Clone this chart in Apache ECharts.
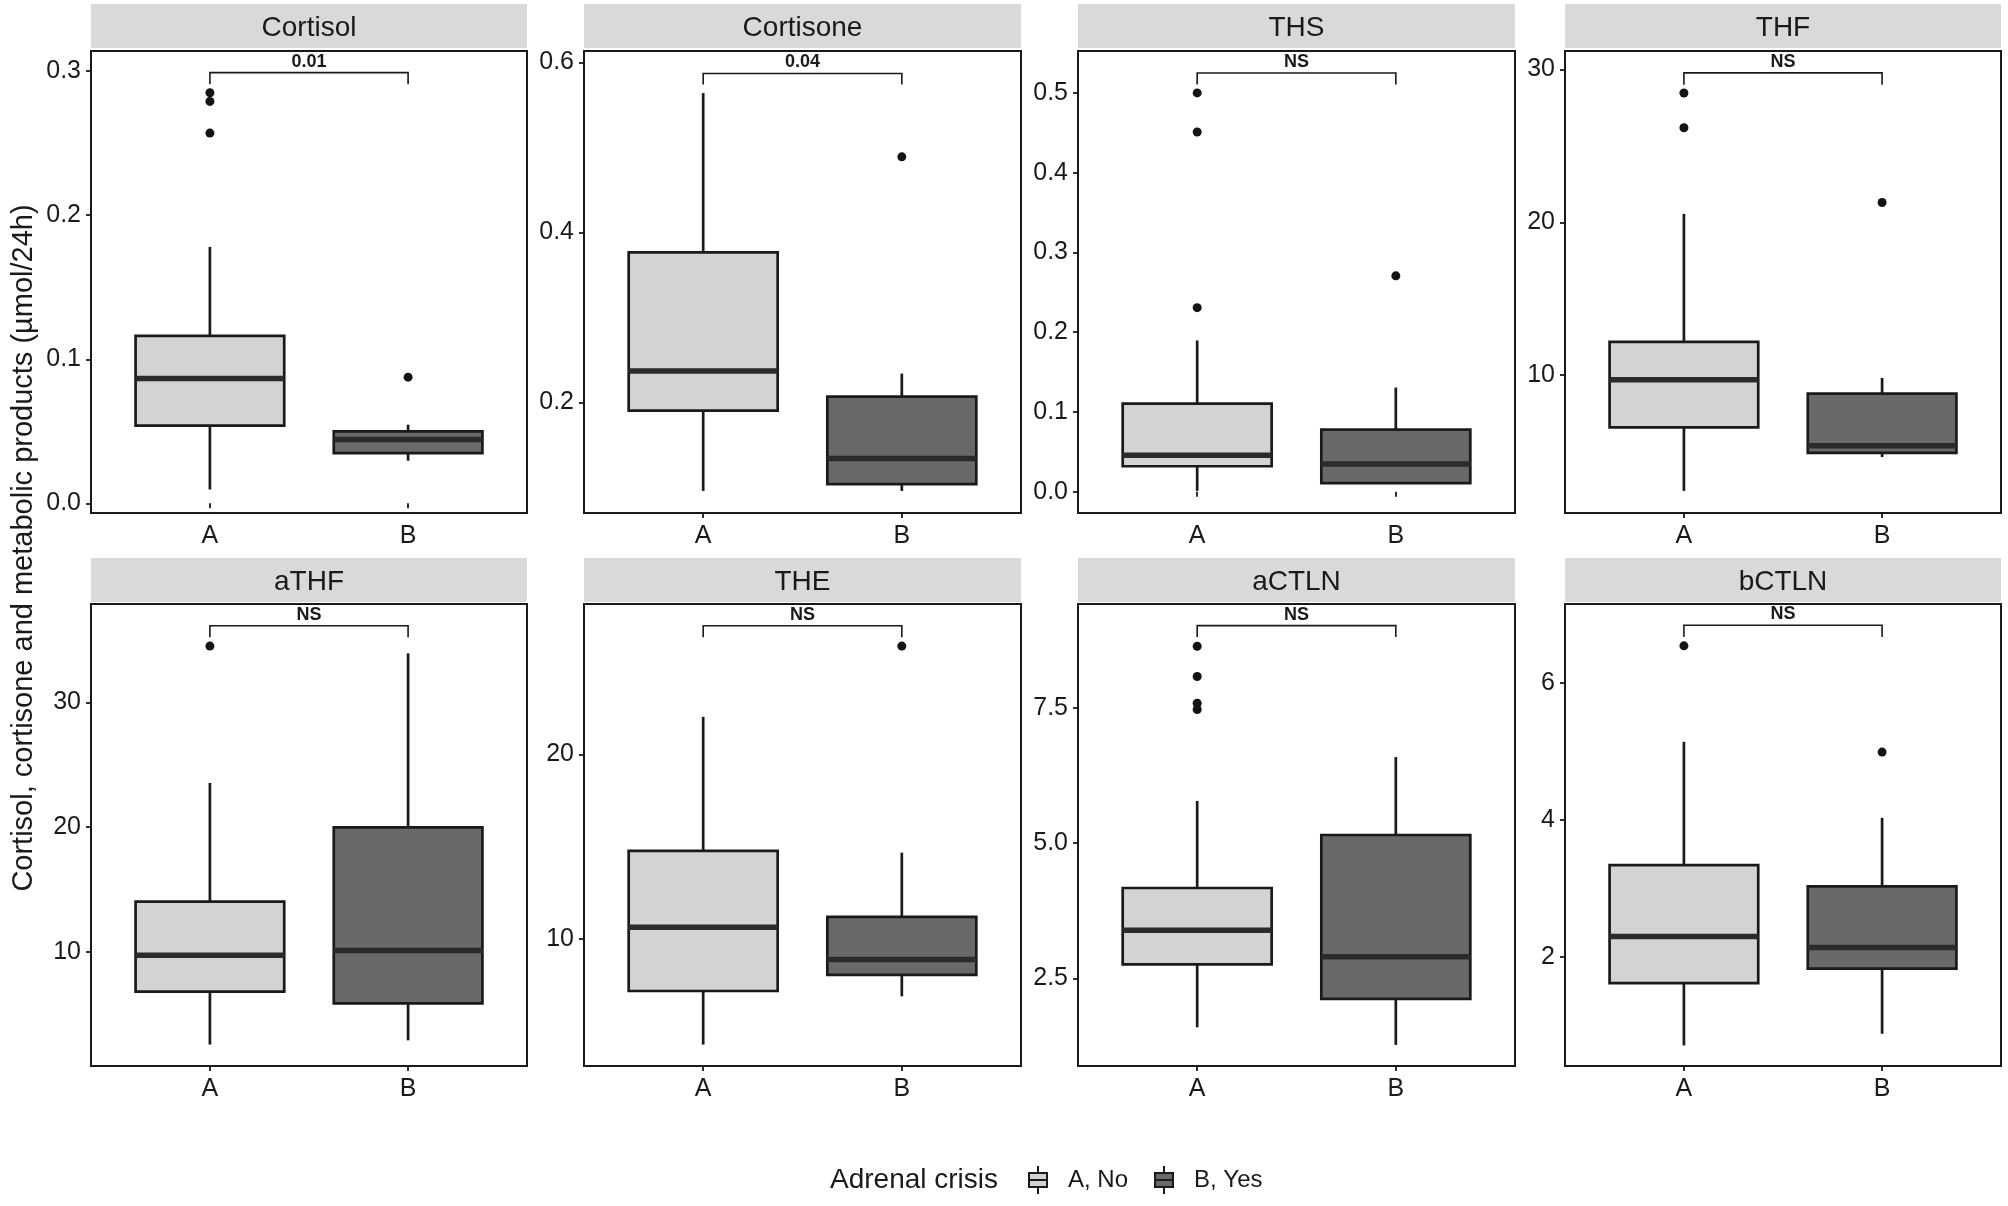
<!DOCTYPE html>
<html>
<head>
<meta charset="utf-8">
<title>Adrenal crisis boxplots</title>
<script src="https://cdn.jsdelivr.net/npm/echarts@6/dist/echarts.min.js"></script>
<style>
  html, body { margin: 0; padding: 0; background: #fff; }
</style>
</head>
<body>
<div id="main" style="width:2008px;height:1206px"></div>
<script type="text/javascript">
// panel names and groups
var panels = ['Cortisol', 'Cortisone', 'THS', 'THF', 'aTHF', 'THE', 'aCTLN', 'bCTLN'];
var groups = ['A', 'B'];
var groupNames = ['A, No', 'B, Yes'];

// box stats: [lower whisker, Q1, median, Q3, upper whisker]
var boxA = [
    [0.0096, 0.054, 0.0867, 0.1163, 0.178],
    [0.096, 0.1904, 0.237, 0.3766, 0.564],
    [0.001, 0.0318, 0.0456, 0.1104, 0.1896],
    [2.42, 6.57, 9.70, 12.17, 20.55],
    [2.54, 6.79, 9.72, 14.02, 23.54],
    [4.29, 7.19, 10.64, 14.78, 22.03],
    [1.595, 2.76, 3.39, 4.17, 5.78],
    [0.71, 1.62, 2.30, 3.34, 5.14]
];
var boxB = [
    [0.0296, 0.0348, 0.0444, 0.050, 0.0546],
    [0.096, 0.104, 0.134, 0.207, 0.234],
    [0.0107, 0.0107, 0.0345, 0.0778, 0.1305],
    [4.63, 4.91, 5.38, 8.79, 9.81],
    [2.88, 5.84, 10.09, 19.98, 33.95],
    [6.90, 8.06, 8.90, 11.20, 14.68],
    [1.27, 2.12, 2.90, 5.15, 6.59],
    [0.88, 1.83, 2.14, 3.03, 4.03]
];
// outliers
var outA = [[0.285, 0.279, 0.257], [], [0.5, 0.451, 0.2307], [28.46, 26.19], [34.53], [], [8.64, 8.08, 7.585, 7.47], [6.54]];
var outB = [[0.0876], [0.489], [0.2706], [21.29], [], [25.86], [], [4.99]];

// significance brackets
var pLabels = ['0.01', '0.04', 'NS', 'NS', 'NS', 'NS', 'NS', 'NS'];
var bracketTop = [0.299, 0.587, 0.525, 29.78, 36.16, 26.96, 9.02, 6.84];
var bracketTip = [0.291, 0.574, 0.5107, 29.0, 35.24, 26.34, 8.81, 6.67];

// y scales
var yMin = [-0.0067, 0.070, -0.0268, 0.97, 0.82, 3.13, 0.88, 0.41];
var yMax = [0.314, 0.6135, 0.5526, 31.21, 37.91, 28.14, 9.42, 7.15];
var yTicks = [
    [0, 0.1, 0.2, 0.3],
    [0.2, 0.4, 0.6],
    [0, 0.1, 0.2, 0.3, 0.4, 0.5],
    [10, 20, 30],
    [10, 20, 30],
    [10, 20],
    [2.5, 5.0, 7.5],
    [2, 4, 6]
];
var yDecimals = [1, 1, 1, 0, 0, 0, 1, 0];

var fillA = '#d3d3d3';
var fillB = '#696969';
var ink = '#1a1a1a';
var font = "'Liberation Sans', Arial, sans-serif";

// layout of the facets
var colLeft = [91, 584, 1078, 1565];
var colWidth = [436, 437, 437, 436];
var rowTop = [51, 604];
var rowHeight = [462, 462];
var stripTop = [4, 558];
var stripHeight = 44;

var myChart = echarts.init(document.getElementById('main'));

function renderBox(params, api) {
    var x = api.value(0);
    var lo = api.coord([x, api.value(1)]);
    var q1 = api.coord([x, api.value(2)]);
    var md = api.coord([x, api.value(3)]);
    var q3 = api.coord([x, api.value(4)]);
    var hi = api.coord([x, api.value(5)]);
    var hw = api.size([0.75, 0])[0] / 2;
    var lineStyle = { stroke: ink, lineWidth: 2.7 };
    return {
        type: 'group',
        children: [
            { type: 'line', shape: { x1: lo[0], y1: lo[1], x2: q1[0], y2: q1[1] }, style: lineStyle },
            { type: 'line', shape: { x1: q3[0], y1: q3[1], x2: hi[0], y2: hi[1] }, style: lineStyle },
            {
                type: 'rect',
                shape: { x: q3[0] - hw, y: q3[1], width: hw * 2, height: q1[1] - q3[1] },
                style: { fill: api.visual('color'), stroke: ink, lineWidth: 2.7 }
            },
            { type: 'line', shape: { x1: md[0] - hw, y1: md[1], x2: md[0] + hw, y2: md[1] }, style: { stroke: '#2b2b2b', lineWidth: 5.5 } }
        ]
    };
}

function makeBracketRenderer(label) {
    return function (params, api) {
        var a0 = api.coord([api.value(0), api.value(3)]);
        var a1 = api.coord([api.value(0), api.value(2)]);
        var b1 = api.coord([api.value(1), api.value(2)]);
        var b0 = api.coord([api.value(1), api.value(3)]);
        return {
            type: 'group',
            children: [
                { type: 'polyline', shape: { points: [a0, a1, b1, b0] }, style: { stroke: ink, lineWidth: 1.6, fill: null } },
                {
                    type: 'text',
                    style: {
                        x: (a1[0] + b1[0]) / 2, y: a1[1] - 2,
                        text: label, align: 'center', verticalAlign: 'bottom',
                        fontFamily: font, fontWeight: 'bold', fontSize: 18, fill: ink
                    }
                }
            ]
        };
    };
}

var grids = [], xAxes = [], yAxes = [], series = [], graphics = [];

panels.forEach(function (name, i) {
    var row = i < 4 ? 0 : 1;
    var col = i % 4;
    grids.push({
        left: colLeft[col], top: rowTop[row], width: colWidth[col], height: rowHeight[row],
        show: true, borderColor: ink, borderWidth: 2, backgroundColor: '#fff'
    });
    xAxes.push({
        type: 'value', gridIndex: i, min: 0.4, max: 2.6,
        axisLine: { show: false },
        splitLine: { show: false },
        axisTick: { show: true, customValues: [1, 2], length: 5, lineStyle: { color: ink, width: 1.8 } },
        axisLabel: {
            customValues: [1, 2], margin: 11, fontSize: 25, fontFamily: font, color: ink,
            formatter: function (v) { return groups[Math.round(v) - 1]; }
        }
    });
    yAxes.push({
        type: 'value', gridIndex: i, min: yMin[i], max: yMax[i],
        axisLine: { show: false },
        splitLine: { show: false },
        axisTick: { show: true, customValues: yTicks[i], length: 5, lineStyle: { color: ink, width: 1.8 } },
        axisLabel: {
            customValues: yTicks[i], margin: 10, fontSize: 25, fontFamily: font, color: ink,
            formatter: (function (d) { return function (v) { return Number(v).toFixed(d); }; })(yDecimals[i])
        }
    });
    series.push({
        name: groupNames[0], type: 'custom', xAxisIndex: i, yAxisIndex: i,
        renderItem: renderBox, itemStyle: { color: fillA },
        encode: { x: 0, y: [1, 2, 3, 4, 5] },
        data: [[1].concat(boxA[i])]
    });
    series.push({
        name: groupNames[1], type: 'custom', xAxisIndex: i, yAxisIndex: i,
        renderItem: renderBox, itemStyle: { color: fillB },
        encode: { x: 0, y: [1, 2, 3, 4, 5] },
        data: [[2].concat(boxB[i])]
    });
    series.push({
        name: 'outliers', type: 'scatter', xAxisIndex: i, yAxisIndex: i,
        symbolSize: 9, itemStyle: { color: '#141414', opacity: 1 }, z: 5,
        data: outA[i].map(function (v) { return [1, v]; }).concat(outB[i].map(function (v) { return [2, v]; }))
    });
    series.push({
        name: 'bracket', type: 'custom', xAxisIndex: i, yAxisIndex: i,
        renderItem: makeBracketRenderer(pLabels[i]),
        encode: { x: [0, 1], y: [2, 3] },
        data: [[1, 2, bracketTop[i], bracketTip[i]]]
    });
    // facet strip
    graphics.push({
        type: 'rect', left: colLeft[col], top: stripTop[row],
        shape: { width: colWidth[col], height: stripHeight },
        style: { fill: '#d9d9d9' }
    });
    graphics.push({
        type: 'text', x: colLeft[col] + colWidth[col] / 2, y: stripTop[row] + 24.5,
        style: { text: name, align: 'center', verticalAlign: 'middle', fontSize: 28, fontFamily: font, fill: ink }
    });
});

// y axis title
graphics.push({
    type: 'text', x: 24, y: 548, rotation: Math.PI / 2,
    style: {
        text: 'Cortisol, cortisone and metabolic products (\u00b5mol/24h)',
        align: 'center', verticalAlign: 'middle', fontSize: 29, fontFamily: font, fill: ink
    }
});
// legend title
graphics.push({
    type: 'text', x: 830, y: 1180,
    style: { text: 'Adrenal crisis', align: 'left', verticalAlign: 'middle', fontSize: 28, fontFamily: font, fill: ink }
});

var boxIcon = 'path://M11,0L11,7M2,7L20,7L20,21L2,21ZM2,14L20,14M11,21L11,28';

option = {
    animation: false,
    backgroundColor: '#fff',
    grid: grids,
    xAxis: xAxes,
    yAxis: yAxes,
    series: series,
    graphic: graphics,
    legend: {
        left: 1023, top: 1160,
        itemWidth: 22, itemHeight: 28, itemGap: 26,
        selectedMode: false,
        textStyle: { fontSize: 24, fontFamily: font, color: ink, padding: [0, 0, 0, 14] },
        data: [
            { name: groupNames[0], icon: boxIcon, itemStyle: { color: fillA, borderColor: ink, borderWidth: 2 } },
            { name: groupNames[1], icon: boxIcon, itemStyle: { color: fillB, borderColor: ink, borderWidth: 2 } }
        ]
    }
};
myChart.setOption(option);
</script>
</body>
</html>
